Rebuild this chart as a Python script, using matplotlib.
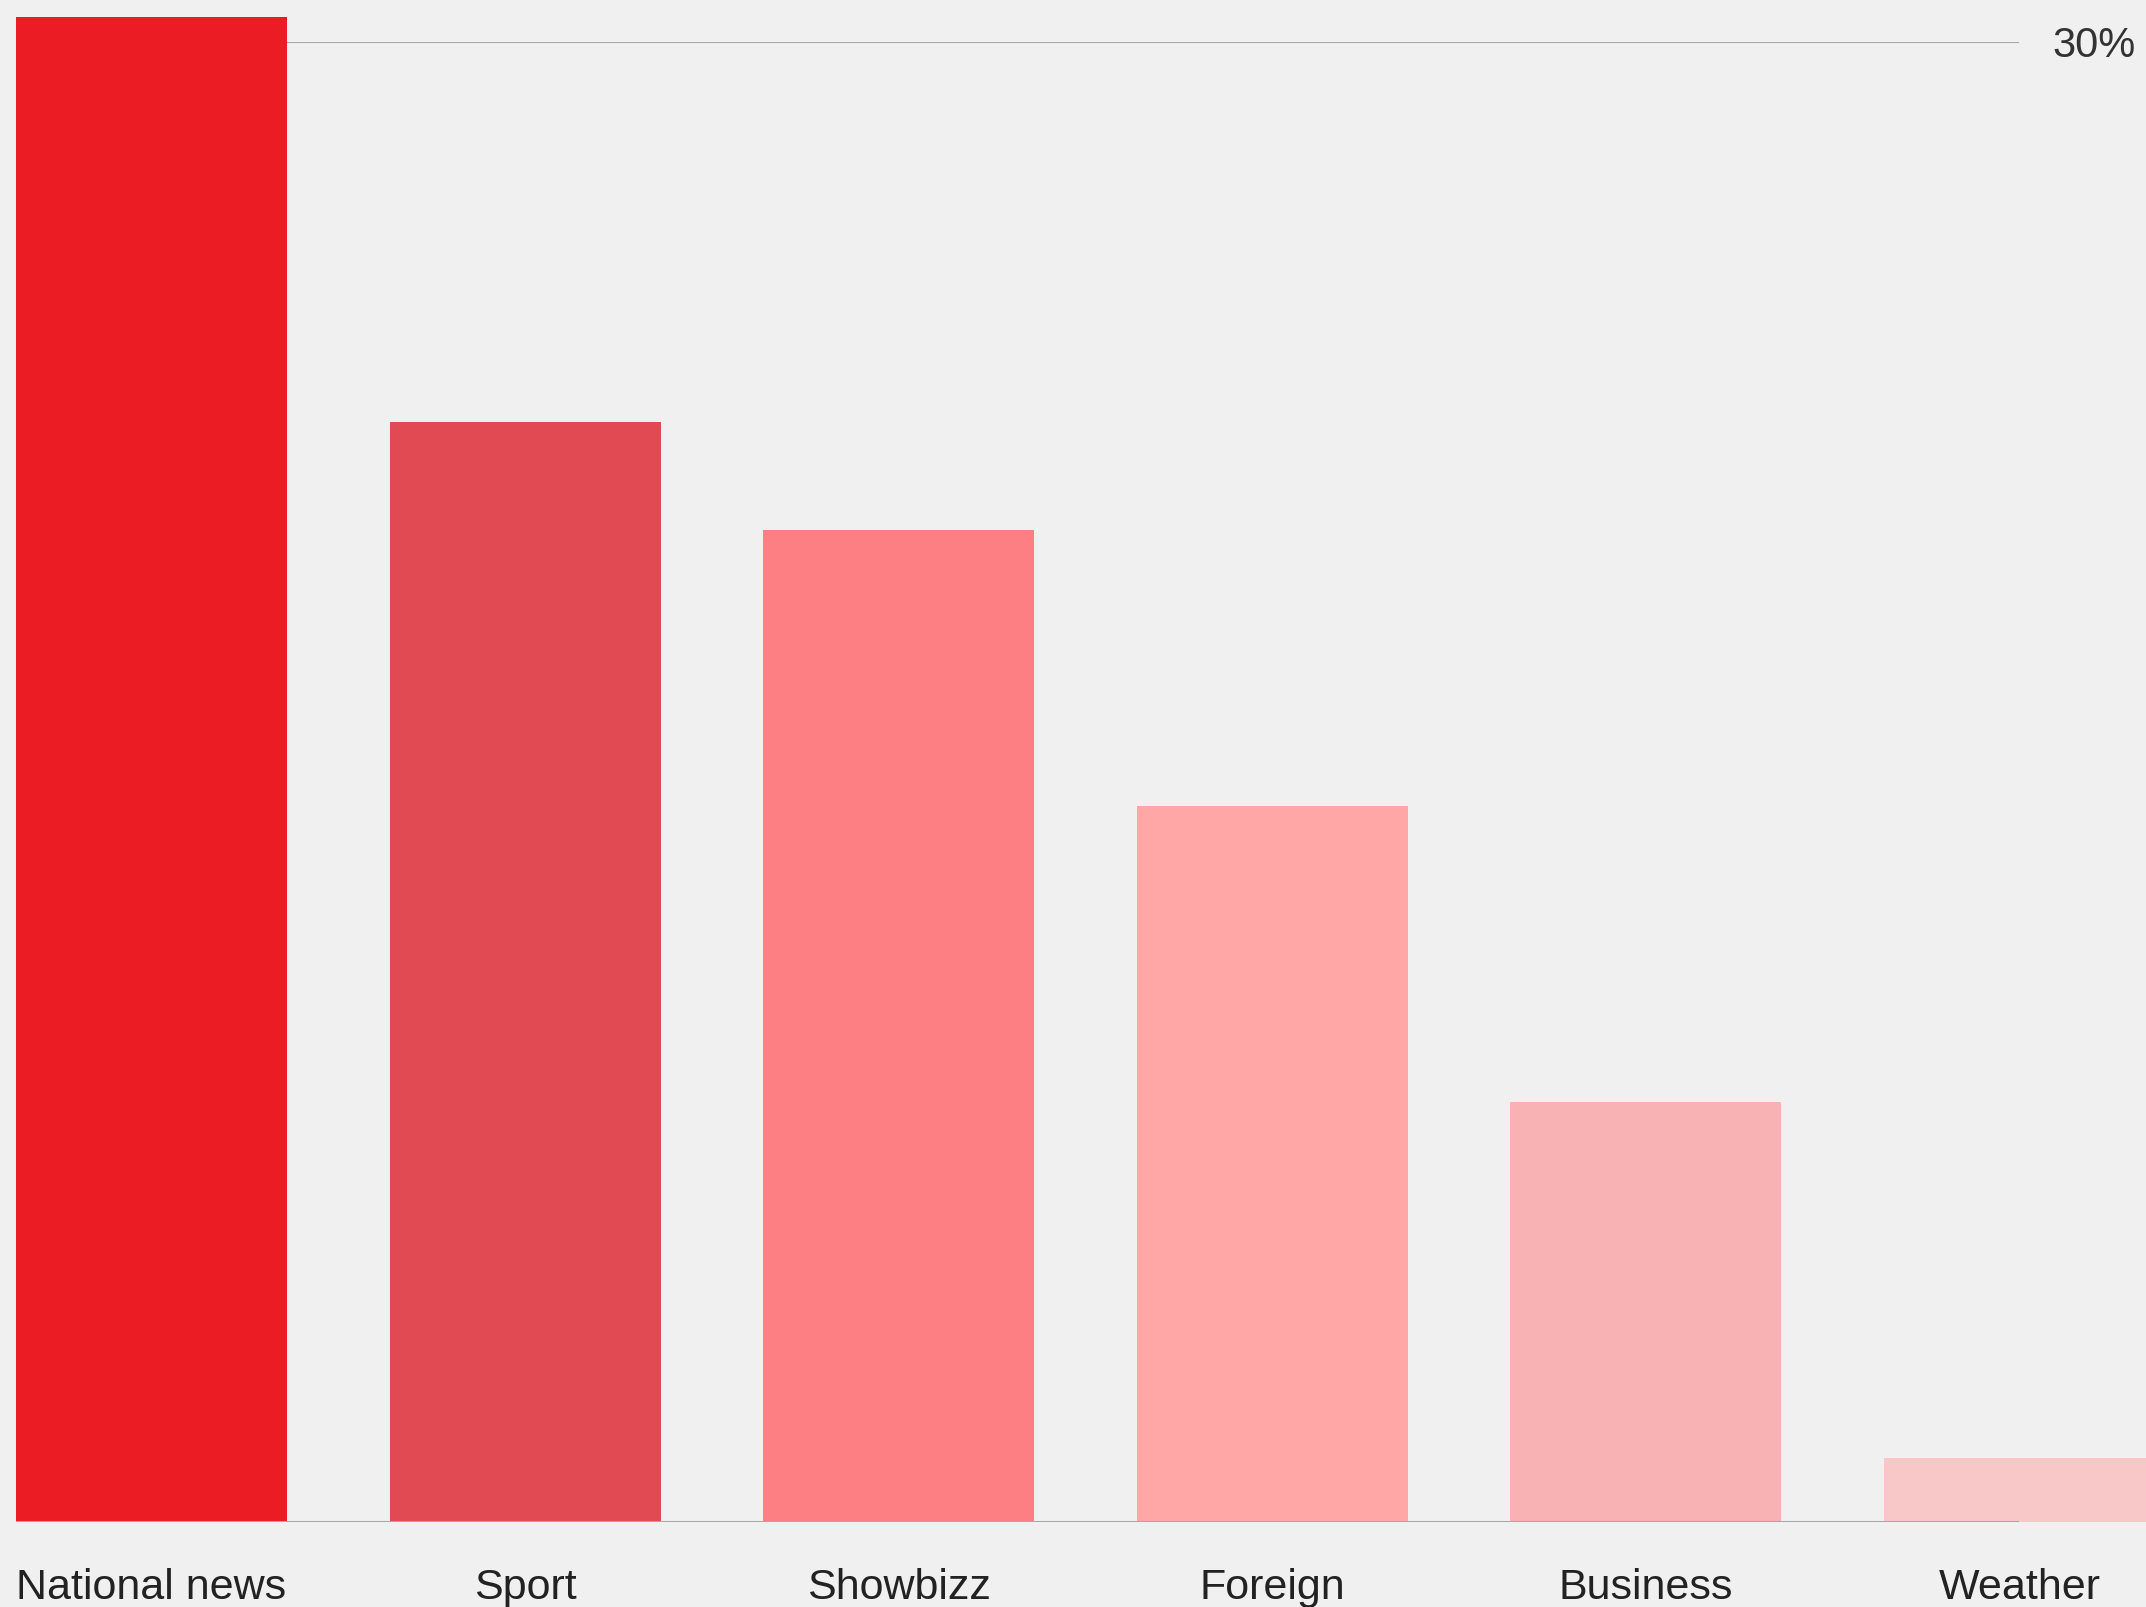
import matplotlib.pyplot as plt

# Data
categories = ['National news', 'Sport', 'Showbizz', 'Foreign', 'Business', 'Weather']
shares = [30.5, 22.3, 20.1, 14.5, 8.5, 1.3]
colors = ['#EC1C24', '#E14A52', '#FE7F83', '#FEA7A6', '#F8B2B4', '#F8C8C9']
grid_values = [30]
grid_labels = ['30%']

bg = '#F0F0F0'
plt.rcParams['font.family'] = ['Liberation Sans', 'DejaVu Sans']

fig = plt.figure(figsize=(21.46, 16.07), dpi=100, facecolor=bg)
ax = fig.add_axes([0.0075, 0.0531, 0.9335, 0.9209], facecolor=bg)

x = list(range(len(categories)))
ax.bar(x, shares, width=0.725, color=colors, clip_on=False, zorder=3)

ax.set_xlim(-0.3625, 4.97)
ax.set_ylim(0, 30)

# gridline at 30% and baseline
for v in grid_values:
    ax.axhline(v, color='#A8A8A8', linewidth=1.5, zorder=1)
ax.axhline(0, color='#A8A8A8', linewidth=2.2, zorder=4)

for s in ax.spines.values():
    s.set_visible(False)

ax.set_xticks(x)
ax.set_xticklabels(categories, fontsize=31, color='#222222')
ax.tick_params(axis='x', length=0, pad=33)

ax.yaxis.tick_right()
ax.set_yticks(grid_values)
ax.set_yticklabels(grid_labels, fontsize=30, color='#333333')
ax.tick_params(axis='y', length=0, pad=24)

fig.savefig('out.png', dpi=100, facecolor=bg)
